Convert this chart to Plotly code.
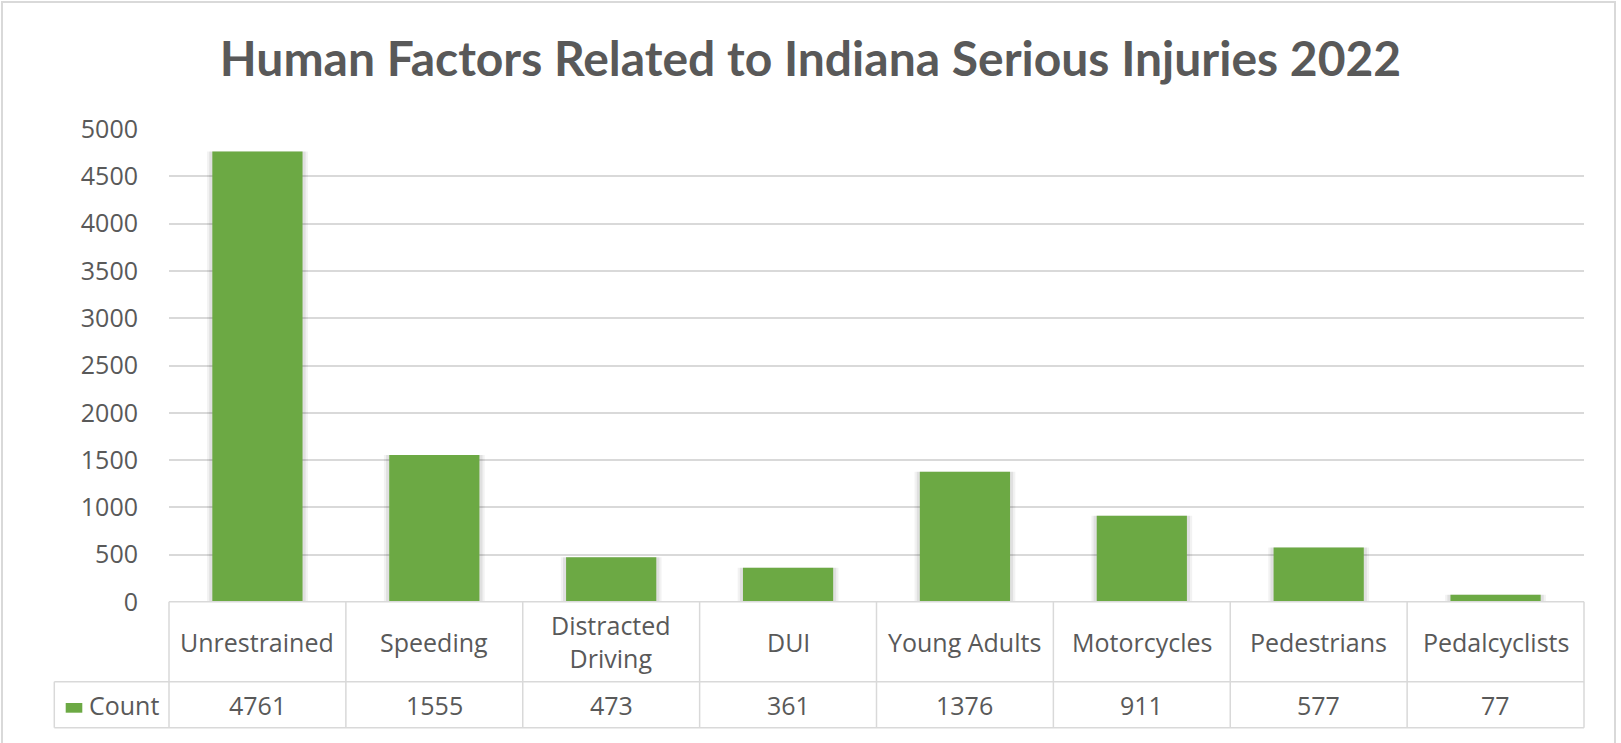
import plotly.graph_objects as go

# ---- data ----
categories = ["Unrestrained", "Speeding", "Distracted Driving", "DUI",
              "Young Adults", "Motorcycles", "Pedestrians", "Pedalcyclists"]
category_labels = ["Unrestrained", "Speeding", "Distracted<br>Driving", "DUI",
                   "Young Adults", "Motorcycles", "Pedestrians", "Pedalcyclists"]
counts = [4761, 1555, 473, 361, 1376, 911, 577, 77]
series_name = "Count"
title_text = "Human Factors Related to Indiana Serious Injuries 2022"
y_ticks = [0, 500, 1000, 1500, 2000, 2500, 3000, 3500, 4000, 4500, 5000]

# ---- layout geometry (pixels) ----
W, H = 1621, 743
ML, MR, MT, MB = 169, 37, 129, 141
PW = W - ML - MR
PH = H - MT - MB
TXT = "#595959"
GRID = "#d9d9d9"
FONT = "Lato"
TFONT = "Open Sans"
BAR = "#6ca944"


def px_x(px):
    return (px - ML) / PW


def px_y(py):
    return (H - MB - py) / PH


n = len(categories)
fig = go.Figure()

# soft shadow halo behind bars
for w, a in [(0.57, 0.05), (0.545, 0.07)]:
    fig.add_trace(go.Bar(x=list(range(n)), y=counts, width=w,
                         marker=dict(color=f"rgba(0,0,0,{a})", line=dict(width=0)),
                         hoverinfo="skip", showlegend=False))

fig.add_trace(go.Bar(x=list(range(n)), y=counts, width=0.51, name=series_name,
                     marker=dict(color=BAR, line=dict(width=0)),
                     showlegend=False))

shapes = []
line = dict(color=GRID, width=1.5)
row1_top, row1_bot, row2_bot = px_y(601.7), px_y(681.7), px_y(727.7)
shapes.append(dict(type="line", xref="paper", yref="paper", x0=0, x1=1,
                   y0=row1_top, y1=row1_top, line=line))
shapes.append(dict(type="line", xref="paper", yref="paper", x0=px_x(54.3), x1=1,
                   y0=row1_bot, y1=row1_bot, line=line))
shapes.append(dict(type="line", xref="paper", yref="paper", x0=px_x(54.3), x1=1,
                   y0=row2_bot, y1=row2_bot, line=line))
for i in range(n + 1):
    xp = i / n
    shapes.append(dict(type="line", xref="paper", yref="paper", x0=xp, x1=xp,
                       y0=row1_top, y1=row2_bot, line=line))
shapes.append(dict(type="line", xref="paper", yref="paper", x0=px_x(54.3), x1=px_x(54.3),
                   y0=row1_bot, y1=row2_bot, line=line))
# legend key square
shapes.append(dict(type="rect", xref="paper", yref="paper",
                   x0=px_x(65.7), x1=px_x(82.3), y0=px_y(712.7), y1=px_y(703),
                   fillcolor=BAR, line=dict(width=0)))
# chart outer border
shapes.append(dict(type="rect", xref="paper", yref="paper",
                   x0=px_x(2), x1=px_x(1615), y0=px_y(770), y1=px_y(2),
                   line=dict(color=GRID, width=2), fillcolor="rgba(0,0,0,0)"))

annotations = []
for i, lab in enumerate(category_labels):
    annotations.append(dict(x=i, xref="x", y=px_y(641.7), yref="paper",
                            text=lab, showarrow=False, xanchor="center", yanchor="middle",
                            font=dict(family=TFONT, size=25, color=TXT)))
for i, v in enumerate(counts):
    annotations.append(dict(x=i, xref="x", y=px_y(704.7), yref="paper",
                            text=str(v), showarrow=False, xanchor="center", yanchor="middle",
                            font=dict(family=TFONT, size=25, color=TXT)))
annotations.append(dict(x=px_x(87), xref="paper", y=px_y(704.7), yref="paper",
                        text=series_name, showarrow=False, xanchor="left", yanchor="middle",
                        font=dict(family=TFONT, size=25, color=TXT)))

fig.update_layout(
    width=W, height=H,
    margin=dict(l=ML, r=MR, t=MT, b=MB, pad=0),
    paper_bgcolor="white", plot_bgcolor="white",
    barmode="overlay",
    title=dict(text=f"<b>{title_text}</b>", x=0.5, xanchor="center",
               y=1 - 59 / H, yanchor="middle", yref="container",
               font=dict(family=FONT, size=48, color=TXT)),
    xaxis=dict(range=[-0.5, n - 0.5], showticklabels=False, showgrid=False,
               zeroline=False, showline=False, ticks="", fixedrange=True),
    yaxis=dict(range=[0, 5000], tickvals=y_ticks, showgrid=True, gridcolor=GRID,
               gridwidth=1.5, zeroline=False, showline=False, ticks="",
               ticklabelstandoff=30,
               tickfont=dict(family=TFONT, size=25, color=TXT)),
    shapes=shapes, annotations=annotations, showlegend=False,
)

fig.write_html("out.html", config={"displayModeBar": False},
               post_script="document.body.style.margin='0px';")
